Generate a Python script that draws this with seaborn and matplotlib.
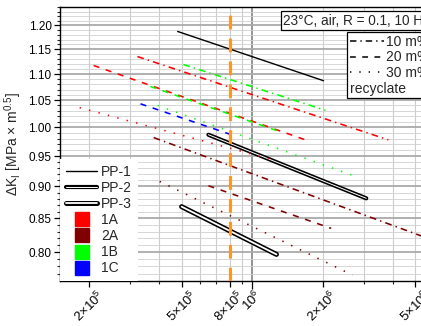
import matplotlib
matplotlib.use("Agg")
import matplotlib.pyplot as plt
import matplotlib.patheffects as pe
from matplotlib.lines import Line2D
from matplotlib.ticker import FixedLocator, FixedFormatter, NullFormatter
import numpy as np
import pandas as pd
import seaborn as sns

# recyclate fits: material, recyclate content, start / end point of each line
materials = ["1A", "1A", "1A", "2A", "2A", "2A", "1B", "1B", "1B", "1C"]
contents = ["10 m%", "20 m%", "30 m%", "10 m%", "20 m%", "30 m%",
            "10 m%", "20 m%", "30 m%", "20 m%"]
cycles_start = [3.22e5, 2.09e5, 1.82e5, 3.78e5, 6.49e5, 4.01e5, 5.07e5, 3.66e5, 3.93e5, 3.32e5]
cycles_end = [3.83e6, 1.69e6, 1.22e6, 6.0e6, 2.18e6, 2.69e6, 2.06e6, 1.30e6, 2.69e6, 8.56e5]
dk_start = [1.135, 1.117, 1.036, 0.982, 0.901, 0.908, 1.119, 1.076, 1.040, 1.043]
dk_end = [0.978, 0.978, 0.944, 0.817, 0.835, 0.768, 1.031, 0.993, 0.918, 0.984]

# virgin PP reference fits
pp_names = ["PP-1", "PP-2", "PP-3"]
pp_cycles_start = [4.79e5, 6.49e5, 4.98e5]
pp_cycles_end = [2.02e6, 3.08e6, 1.27e6]
pp_dk_start = [1.187, 0.987, 0.868]
pp_dk_end = [1.087, 0.881, 0.797]

marker_cycles = 8e5

x_ticks = [2e5, 5e5, 8e5, 1e6, 2e6, 5e6]
x_ticklabels = ["2×10$^{\\mathregular{5}}$", "5×10$^{\\mathregular{5}}$", "8×10$^{\\mathregular{5}}$",
                "10$^{\\mathregular{6}}$", "2×10$^{\\mathregular{6}}$", "5×10$^{\\mathregular{6}}$"]
x_minor = [3e5, 4e5, 6e5, 7e5, 9e5, 3e6, 4e6]
y_ticks = [0.80, 0.85, 0.90, 0.95, 1.00, 1.05, 1.10, 1.15, 1.20]

palette = {"1A": "#ff0000", "2A": "#800000", "1B": "#00ff00", "1C": "#0000ff"}
dash_map = {"10 m%": (4.2, 2.6, 0.9, 2.6), "20 m%": (3.8, 4.2), "30 m%": (0.9, 5.2)}

sns.set_theme(style="ticks")
plt.rcParams["font.family"] = ["Liberation Sans", "DejaVu Sans"]
plt.rcParams["mathtext.default"] = "regular"

rows = []
for i in range(len(materials)):
    rows.append({"line": i, "material": materials[i], "content": contents[i],
                 "cycles": cycles_start[i], "dk": dk_start[i]})
    rows.append({"line": i, "material": materials[i], "content": contents[i],
                 "cycles": cycles_end[i], "dk": dk_end[i]})
df = pd.DataFrame(rows)

pp_rows = []
for name, n0, n1, k0, k1 in zip(pp_names, pp_cycles_start, pp_cycles_end, pp_dk_start, pp_dk_end):
    pp_rows.append({"name": name, "cycles": n0, "dk": k0})
    pp_rows.append({"name": name, "cycles": n1, "dk": k1})
pp_df = pd.DataFrame(pp_rows)

pp_styles = {
    "PP-1": dict(color="black", linewidth=1.0),
    "PP-2": dict(color="white", linewidth=0.7,
                 path_effects=[pe.Stroke(linewidth=3.0, foreground="black"), pe.Normal()]),
    "PP-3": dict(color="white", linewidth=1.3,
                 path_effects=[pe.Stroke(linewidth=3.6, foreground="black"), pe.Normal()]),
}

fig = plt.figure(figsize=(4.21, 3.26), dpi=100)
ax = fig.add_axes([0.1425, 0.138, 0.888, 0.8405])
ax.set_xscale("log")
ax.set_yscale("log")

for name in pp_names:
    sns.lineplot(data=pp_df[pp_df["name"] == name], x="cycles", y="dk", ax=ax,
                 legend=False, zorder=3, **pp_styles[name])

sns.lineplot(data=df, x="cycles", y="dk", hue="material", style="content",
             units="line", estimator=None, sort=False, palette=palette,
             dashes=dash_map, linewidth=1.15, legend=False, ax=ax, zorder=4)

ax.axvline(marker_cycles, color="#ff9428", linewidth=2.2, linestyle=(0, (4.5, 3)), zorder=6)

ax.set_xlim(1.5e5, 6e6)
ax.set_ylim(0.76, 1.24)

ax.xaxis.set_major_locator(FixedLocator(x_ticks))
ax.xaxis.set_major_formatter(FixedFormatter(x_ticklabels))
ax.xaxis.set_minor_locator(FixedLocator(x_minor))
ax.xaxis.set_minor_formatter(NullFormatter())
ax.yaxis.set_major_locator(FixedLocator(y_ticks))
ax.yaxis.set_major_formatter(FixedFormatter([f"{v:.2f}" for v in y_ticks]))
ax.yaxis.set_minor_locator(FixedLocator(np.round(np.arange(0.77, 1.245, 0.01), 2)))
ax.yaxis.set_minor_formatter(NullFormatter())

ax.tick_params(axis="both", which="major", direction="out", length=4, width=0.9,
               labelsize=8.5, colors="black", pad=2)
ax.tick_params(axis="both", which="minor", direction="out", length=2.5, width=0.8)
ax.tick_params(axis="x", which="major", labelrotation=45, labelsize=9.5, pad=1)
ax.xaxis.get_major_ticks()[3].tick1line.set_markersize(6)

ax.grid(axis="x", which="both", color="#cccccc", linewidth=0.8)
ax.grid(axis="y", which="major", color="#aaaaaa", linewidth=1.3)
ax.grid(axis="y", which="minor", color="#d0d0d0", linewidth=0.6)
ax.xaxis.get_major_ticks()[3].gridline.set_color("#8c8c8c")
ax.xaxis.get_major_ticks()[3].gridline.set_linewidth(1.3)
ax.set_axisbelow(True)

for sp in ax.spines.values():
    sp.set_color("black")
    sp.set_linewidth(1.0)

ax.set_xlabel("cycles to failure [-]", fontsize=10, labelpad=3)
ax.set_ylabel("$\\Delta$K$_{\\mathregular{I}}$ [MPa × m$^{\\mathregular{0.5}}$]", fontsize=10, labelpad=3)

# left legend: PP references and material colours
handles1 = [Line2D([], [], **pp_styles[n]) for n in pp_names]
handles1 += [Line2D([], [], marker="s", linestyle="none", markersize=9.4,
                    color=palette[m]) for m in palette]
labels1 = pp_names + list(palette)
leg1 = ax.legend(handles1, labels1, loc="lower left", bbox_to_anchor=(0, 0),
                 borderaxespad=0, fontsize=10, frameon=True, fancybox=False,
                 framealpha=1, facecolor="white", edgecolor="none",
                 handlelength=2.3, handletextpad=0.25, labelspacing=0.15,
                 borderpad=0.4)
leg1.set_zorder(7)
ax.add_artist(leg1)

# right legend: recyclate content line styles
handles2 = [Line2D([], [], color="black", linewidth=1.1, dashes=dash_map[c])
            for c in ["10 m%", "20 m%", "30 m%"]]
leg2 = ax.legend(handles2, ["10 m%", "20 m%", "30 m%"], title="recyclate",
                 title_fontsize=10, alignment="left", loc="upper right",
                 bbox_to_anchor=(0.995, 0.909), borderaxespad=0, fontsize=10,
                 frameon=True, fancybox=False, framealpha=1, facecolor="white",
                 edgecolor="black", handlelength=2.4, handletextpad=0.15,
                 labelspacing=0.12, borderpad=0.2)
leg2.get_frame().set_linewidth(0.9)
leg2._legend_box._children.reverse()
leg2.set_zorder(7)

ax.text(0.99, 0.976, "23°C, air, R = 0.1, 10 Hz", transform=ax.transAxes,
        ha="right", va="top", fontsize=9.8, zorder=7,
        bbox=dict(boxstyle="square,pad=0.2", facecolor="white", edgecolor="black", linewidth=0.9))

fig.savefig("out.png", dpi=100)
